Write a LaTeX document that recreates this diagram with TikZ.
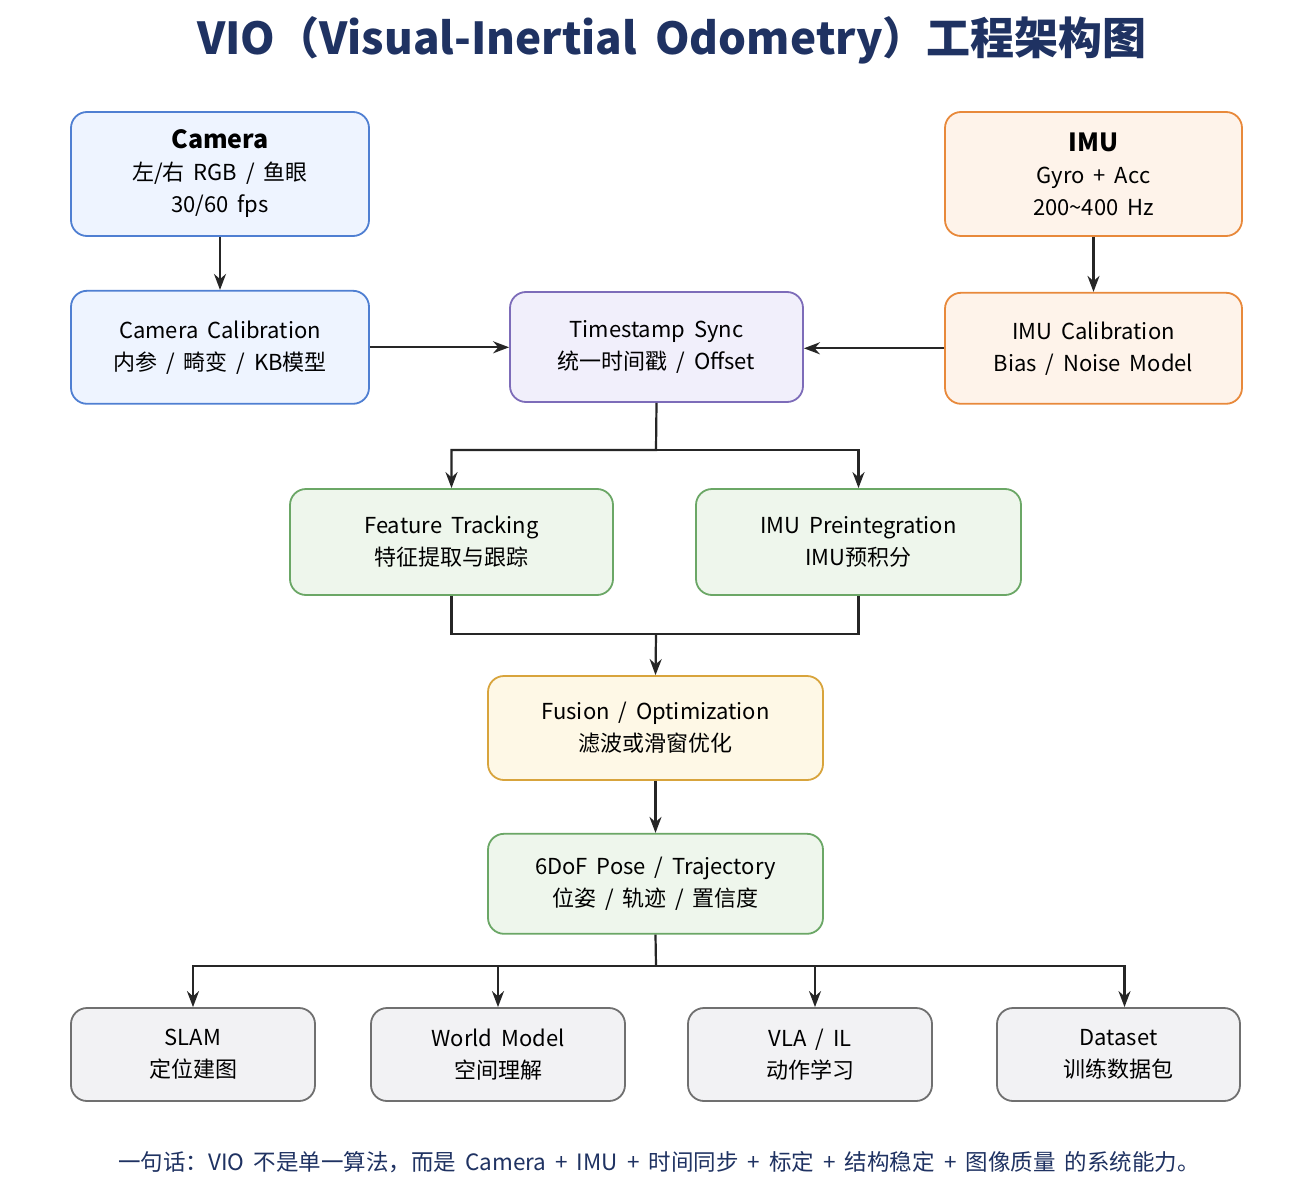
\documentclass[tikz,border=0pt]{standalone}
\usepackage{fontspec}
\setmainfont{Noto Sans CJK SC}[WordSpace=1.8]
\usetikzlibrary{arrows.meta,positioning}

\definecolor{navy}{HTML}{1F3262}
\definecolor{camline}{HTML}{4F7FD2}
\definecolor{camfill}{HTML}{EEF4FF}
\definecolor{syncline}{HTML}{7D6CB9}
\definecolor{syncfill}{HTML}{F1EFFB}
\definecolor{imuline}{HTML}{E8893B}
\definecolor{imufill}{HTML}{FEF3EA}
\definecolor{featline}{HTML}{6BA766}
\definecolor{featfill}{HTML}{EEF6EC}
\definecolor{fuseline}{HTML}{D8A43C}
\definecolor{fusefill}{HTML}{FEF8E6}
\definecolor{useline}{HTML}{707070}
\definecolor{usefill}{HTML}{F2F2F4}

\begin{document}
\begin{tikzpicture}[x=1pt,y=-1pt,>={Stealth[length=16pt,width=12pt]},
    box/.style={rounded corners=16pt,line width=1.8pt,align=center,inner sep=0pt,
        font=\fontsize{22}{32}\selectfont},
    cam/.style={box,draw=camline,fill=camfill},
    sync/.style={box,draw=syncline,fill=syncfill},
    imu/.style={box,draw=imuline,fill=imufill},
    feat/.style={box,draw=featline,fill=featfill},
    fuse/.style={box,draw=fuseline,fill=fusefill},
    usebox/.style={box,draw=useline,fill=usefill,minimum width=244pt,minimum height=93pt},
    link/.style={line width=2.2pt,draw=black!85}]

    \useasboundingbox[fill=white] (0,0) rectangle (1315,1196);

    \node[font=\fontsize{44}{50}\selectfont\bfseries,text=navy] (title) at (672,40)
        {VIO（Visual-Inertial Odometry）工程架构图};

    % sensors
    \node[cam,minimum width=298pt,minimum height=124pt] (camera) at (220,174)
        {{\fontsize{25}{32}\selectfont\bfseries Camera}\\左/右 RGB / 鱼眼\\30/60 fps};
    \node[cam,minimum width=298pt,minimum height=113pt] (camcal) [below=53pt of camera]
        {Camera Calibration\\内参 / 畸变 / KB模型};
    \node[imu,minimum width=297pt,minimum height=124pt] (imu) at (1093.5,174)
        {{\fontsize{25}{32}\selectfont\bfseries IMU}\\Gyro + Acc\\200\textasciitilde 400 Hz};
    \node[imu,minimum width=297pt,minimum height=111pt] (imucal) [below=55pt of imu]
        {IMU Calibration\\Bias / Noise Model};
    \node[sync,minimum width=293pt,minimum height=110pt] (sync) at (656.5,347)
        {Timestamp Sync\\统一时间戳 / Offset};

    % front end
    \node[feat,minimum width=323pt,minimum height=106pt] (feature) at (451.5,542)
        {Feature Tracking\\特征提取与跟踪};
    \node[feat,minimum width=325pt,minimum height=106pt] (preint) at (858.5,542)
        {IMU Preintegration\\IMU预积分};

    % back end
    \node[fuse,minimum width=335pt,minimum height=104pt] (fusion) at (655.5,728)
        {Fusion / Optimization\\滤波或滑窗优化};
    \node[feat,minimum width=335pt,minimum height=100pt] (pose) [below=52pt of fusion]
        {6DoF Pose / Trajectory\\位姿 / 轨迹 / 置信度};

    % consumers
    \node[usebox] (slam) at (193,1054.5) {SLAM\\定位建图};
    \node[usebox,minimum width=254pt] (world) at (498,1054.5) {World Model\\空间理解};
    \node[usebox] (vla) at (810,1054.5) {VLA / IL\\动作学习};
    \node[usebox,minimum width=243pt] (data) at (1118.5,1054.5) {Dataset\\训练数据包};

    \node[font=\fontsize{22.5}{26}\selectfont,text=navy] (note) at (659,1162)
        {一句话：VIO 不是单一算法，而是 Camera + IMU + 时间同步 + 标定 + 结构稳定 + 图像质量 的系统能力。};

    \draw[link,->] (camera) -- (camcal);
    \draw[link,->] (imu) -- (imucal);
    \draw[link,->] (camcal.east) -- (camcal.east -| sync.west);
    \draw[link,->] (imucal.west) -- (imucal.west -| sync.east);

    \coordinate (split) at (656,450);
    \draw[link,->] (sync.south) -- (split) -| (feature.north);
    \draw[link,->] (split) -| (preint.north);

    \coordinate (join) at (656,634);
    \draw[link] (feature.south) |- (join);
    \draw[link] (preint.south) |- (join);
    \draw[link,->] (join) -- (fusion.north);

    \draw[link,->] (fusion) -- (pose);

    \coordinate (bus) at (656,966);
    \draw[link] (pose.south) -- (bus);
    \draw[link,->] (bus) -| (slam.north);
    \draw[link,->] (bus) -| (world.north);
    \draw[link,->] (bus) -| ([xshift=5pt]vla.north);
    \draw[link,->] (bus) -| ([xshift=6pt]data.north);
\end{tikzpicture}
\end{document}
